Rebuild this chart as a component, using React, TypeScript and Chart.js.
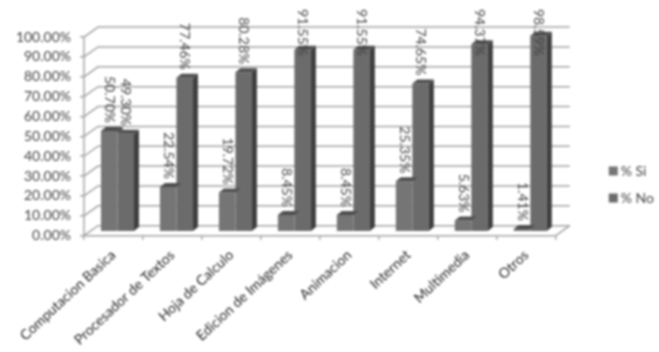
import { useEffect, useRef } from "react";
import { Chart, registerables } from "chart.js";

Chart.register(...registerables);

const categories = ["Computacion Basica", "Procesador de Textos", "Hoja de Calculo", "Edicion de Imágenes", "Animacion", "Internet", "Multimedia", "Otros"];
const siValues = [50.7, 22.54, 19.72, 8.45, 8.45, 25.35, 5.63, 1.41];
const noValues = [49.3, 77.46, 80.28, 91.55, 91.55, 74.65, 94.37, 98.59];
const yTicks = [0, 10, 20, 30, 40, 50, 60, 70, 80, 90, 100];
const FONT = "Lato, 'Open Sans', sans-serif";
const TEXT = "#444444";
const GRID = "#a4a4a4";
const DEPTH_X = 14, DEPTH_Y = 10;
const BAR_DX = 4, BAR_DY = -4;
const BAR_DEPTH_X = 5, BAR_DEPTH_Y = 4;
const LABEL_TOP = 9;

const wall3d = {
  id: "wall3d",
  beforeDatasetsDraw(chart: any) {
    const { ctx, scales: { x, y } } = chart;
    const l = x.left, r = x.right;
    ctx.save();
    ctx.strokeStyle = GRID;
    ctx.lineWidth = 1.5;
    yTicks.forEach((v) => {
      const py = y.getPixelForValue(v);
      ctx.beginPath();
      ctx.moveTo(l, py);
      ctx.lineTo(l + DEPTH_X, py - DEPTH_Y);
      ctx.lineTo(r + DEPTH_X, py - DEPTH_Y);
      ctx.stroke();
    });
    const y0 = y.getPixelForValue(0);
    ctx.beginPath();
    ctx.moveTo(r, y0);
    ctx.lineTo(r + DEPTH_X, y0 - DEPTH_Y);
    ctx.stroke();
    ctx.beginPath();
    ctx.moveTo(l, y0);
    ctx.lineTo(l, y.getPixelForValue(100));
    ctx.stroke();
    ctx.restore();
    ctx.save();
    ctx.translate(BAR_DX, BAR_DY);
  },
  afterDatasetsDraw(chart: any) {
    const { ctx } = chart;
    const metaNo = chart.getDatasetMeta(1).data;
    chart.data.datasets.forEach((_: any, di: number) => {
      chart.getDatasetMeta(di).data.forEach((bar: any, i: number) => {
        const { x, y, base, width } = bar.getProps(["x", "y", "base", "width"], true);
        const left = x - width / 2, right = x + width / 2;
        // the first series' side is hidden by the second bar, except where it stands taller
        const sideBottom = di === 0 ? Math.min(base, metaNo[i].y) : base;
        if (sideBottom > y) {
          ctx.fillStyle = "#3f3f3f";
          ctx.beginPath();
          ctx.moveTo(right, y);
          ctx.lineTo(right + BAR_DEPTH_X, y - BAR_DEPTH_Y);
          ctx.lineTo(right + BAR_DEPTH_X, sideBottom - BAR_DEPTH_Y);
          ctx.lineTo(right, sideBottom);
          ctx.closePath();
          ctx.fill();
        }
        ctx.fillStyle = "#4e4e4e";
        ctx.beginPath();
        ctx.moveTo(left, y);
        ctx.lineTo(left + BAR_DEPTH_X, y - BAR_DEPTH_Y);
        ctx.lineTo(right + BAR_DEPTH_X, y - BAR_DEPTH_Y);
        ctx.lineTo(right, y);
        ctx.closePath();
        ctx.fill();
      });
    });
    ctx.restore();
    ctx.save();
    ctx.fillStyle = TEXT;
    ctx.font = `14px ${FONT}`;
    ctx.textBaseline = "middle";
    ctx.textAlign = "left";
    chart.data.datasets.forEach((ds: any, di: number) => {
      chart.getDatasetMeta(di).data.forEach((bar: any, i: number) => {
        const { x, y } = bar.getProps(["x", "y"], true);
        const text = ds.data[i].toFixed(2) + "%";
        const w = ctx.measureText(text).width;
        const start = Math.max(LABEL_TOP, y + BAR_DY - 8 - w);
        ctx.save();
        ctx.translate(x + BAR_DX, start);
        ctx.rotate(Math.PI / 2);
        ctx.fillText(text, 0, 0);
        ctx.restore();
      });
    });
    ctx.restore();
  },
};

export default function App() {
  const ref = useRef<HTMLCanvasElement>(null);
  useEffect(() => {
    const chart = new Chart(ref.current!, {
      type: "bar",
      data: {
        labels: categories,
        datasets: [
          { label: "% Si", data: siValues, backgroundColor: "#757575" },
          { label: "% No", data: noValues, backgroundColor: "#6b6b6b" },
        ],
      },
      options: {
        responsive: false,
        animation: false,
        layout: { padding: { top: 17, right: -5, bottom: 0, left: 0 } },
        datasets: { bar: { categoryPercentage: 0.56, barPercentage: 1 } },
        plugins: {
          tooltip: { enabled: false },
          legend: {
            position: "right",
            labels: {
              usePointStyle: true,
              pointStyle: "rect",
              boxWidth: 1,
              boxHeight: 9,
              padding: 13,
              color: TEXT,
              font: { family: FONT, size: 14 },
            },
          },
        },
        scales: {
          x: {
            grid: { drawOnChartArea: false, drawTicks: true, tickLength: 4, color: GRID, lineWidth: 1.5 },
            border: { color: GRID, width: 1.5 },
            ticks: { color: "#262626", font: { family: FONT, size: 14 }, minRotation: 43, maxRotation: 43, autoSkip: false, padding: 7 },
            afterFit: (s: any) => { s.height = 116.3; },
          },
          y: {
            min: 0,
            max: 109.9,
            grid: { drawOnChartArea: false, drawTicks: true, tickLength: 4, color: GRID, lineWidth: 1.5 },
            border: { display: false },
            ticks: { color: TEXT, font: { family: FONT, size: 14 }, padding: 9, callback: (v: any) => Number(v).toFixed(2) + "%" },
            afterBuildTicks: (s: any) => { s.ticks = yTicks.map((value) => ({ value })); },
            afterFit: (s: any) => { s.width = 84; },
          },
          spacer: {
            position: "right",
            grid: { display: false },
            border: { display: false },
            ticks: { display: false },
            afterFit: (s: any) => { s.width = 44; },
          },
        },
      },
      plugins: [wall3d],
    } as any);
    return () => chart.destroy();
  }, []);
  return (
    <div style={{ position: "fixed", left: 0, top: 0, width: 659, height: 352, background: "#fff" }}>
      <canvas ref={ref} width={659} height={352} style={{ display: "block", filter: "blur(0.8px)" }} />
    </div>
  );
}
